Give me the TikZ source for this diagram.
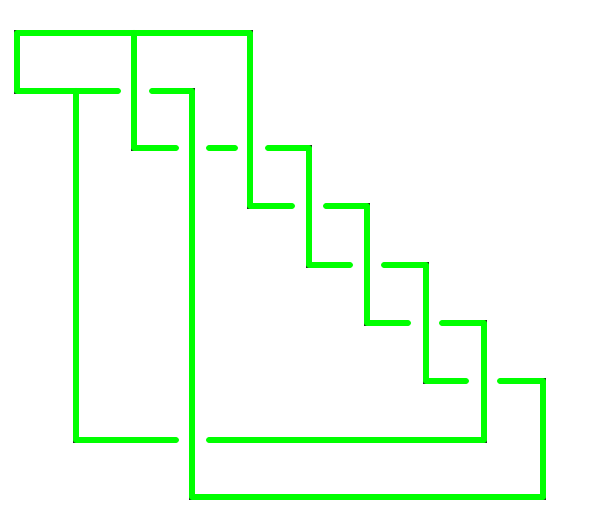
\documentclass[tikz,border=0pt]{standalone}
\usepackage{tikz}

\begin{document}
\begin{tikzpicture}[
    x=0.02cm,
    y=-0.02cm,
    strand/.style={
        draw=green,
        line width=0.12cm,
        line cap=round,
        line join=round,
        preaction={draw=black!85, line width=0.135cm}
    }
]

\useasboundingbox (0,0) rectangle (602,516);

% outer frame and the long steps
\draw[strand] (118,91) -- (17,91) -- (17,33) -- (250,33) -- (250,206) -- (292,206);
\draw[strand] (134,33) -- (134,148) -- (176,148);
\draw[strand] (209,148) -- (235,148);
\draw[strand] (268,148) -- (309,148) -- (309,265) -- (350,265);
\draw[strand] (384,265) -- (426,265) -- (426,381) -- (466,381);
\draw[strand] (326,206) -- (367,206) -- (367,323) -- (408,323);
\draw[strand] (442,323) -- (484,323) -- (484,440) -- (209,440);
\draw[strand] (176,440) -- (76,440) -- (76,91);
\draw[strand] (152,91) -- (192,91) -- (192,497) -- (543,497) -- (543,381) -- (500,381);

\end{tikzpicture}
\end{document}
